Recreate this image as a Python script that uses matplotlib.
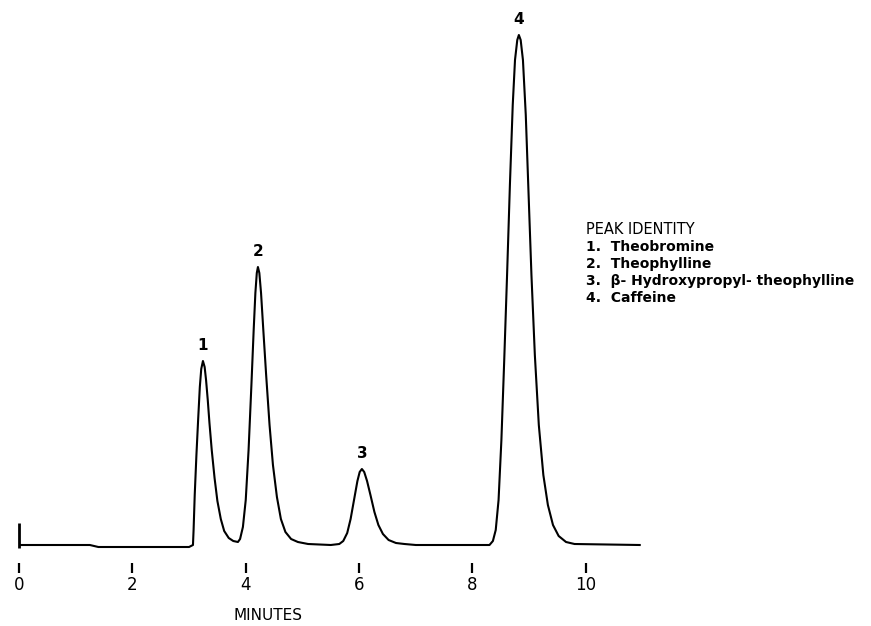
import matplotlib
matplotlib.use("Agg")
import matplotlib.pyplot as plt

# Chromatogram trace (time in minutes, detector signal in arbitrary units)
t = [0.03, 1.25, 1.40, 3.00,
     3.069, 3.08, 3.10, 3.13, 3.16, 3.19, 3.215, 3.245, 3.275, 3.30, 3.33, 3.36, 3.40, 3.45,
     3.50, 3.56, 3.62, 3.70, 3.78, 3.862,
     3.90, 3.95, 4.00, 4.05, 4.10, 4.14, 4.17, 4.195, 4.215, 4.24, 4.27, 4.31, 4.36, 4.42,
     4.48, 4.55, 4.62, 4.70, 4.80, 4.92, 5.10, 5.50,
     5.65, 5.72, 5.79, 5.85, 5.91, 5.97, 6.01, 6.049, 6.09, 6.14, 6.20, 6.27, 6.34, 6.42,
     6.52, 6.65, 6.80, 7.00,
     8.30, 8.36, 8.41, 8.46, 8.51, 8.56, 8.61, 8.66, 8.71, 8.75, 8.79, 8.818, 8.85, 8.89,
     8.94, 8.99, 9.04, 9.10, 9.17, 9.25, 9.33, 9.42, 9.52, 9.65, 9.80, 10.95]
signal = [0, 0, -2, -2,
          0, 15, 50, 90, 125, 158, 176, 184, 178, 165, 145, 122, 95, 67,
          44, 26, 14, 7, 4, 3,
          6, 18, 45, 95, 160, 215, 252, 272, 278, 272, 252, 215, 170, 120,
          80, 48, 26, 13, 6, 3, 1, 0,
          1, 4, 12, 26, 45, 64, 73, 76, 73, 64, 50, 33, 20, 11,
          5, 2, 1, 0,
          0, 4, 15, 45, 105, 185, 270, 360, 440, 485, 505, 510, 505, 485,
          430, 350, 270, 190, 120, 70, 40, 20, 9, 3, 1, 0]

# injection mark at t = 0
inject_low, inject_high = -3, 22

peak_times = [3.245, 4.215, 6.049, 8.818]
peak_heights = [184, 278, 76, 510]
peak_labels = ["1", "2", "3", "4"]

x_ticks = [0, 2, 4, 6, 8, 10]
x_ticklabels = ["0", "2", "4", "6", "8", "10"]

legend_title = "PEAK IDENTITY"
legend_items = ["1.  Theobromine", "2.  Theophylline",
                "3.  \u03b2- Hydroxypropyl- theophylline", "4.  Caffeine"]

fig = plt.figure(figsize=(8.71, 6.26), dpi=100)
ax = fig.add_axes([0, 0, 1, 1])
ax.set_xlim(-0.335, 15.03)
ax.set_ylim(-81, 545)

ax.plot(t, signal, color="black", lw=1.5, solid_joinstyle="round")
ax.vlines(0, inject_low, inject_high, color="black", lw=2)

for pt, ph, lab in zip(peak_times, peak_heights, peak_labels):
    ax.text(pt, ph + 8, lab, ha="center", va="bottom", fontsize=11, fontweight="bold")

# x axis: hidden spine, detached ticks below the baseline
for s in ["top", "right", "left", "bottom"]:
    ax.spines[s].set_visible(False)
ax.spines["bottom"].set_position(("data", -18))
ax.set_yticks([])
ax.set_xticks(x_ticks)
ax.set_xticklabels(x_ticklabels, fontsize=12)
ax.tick_params(axis="x", direction="out", length=7, width=1.6, pad=2, colors="black")
ax.set_xlabel("MINUTES", fontsize=11)
ax.xaxis.set_label_coords(4.4, -63, transform=ax.transData)
ax.patch.set_alpha(0)

ax.text(10.0, 545 - 230, legend_title, fontsize=10.5, va="center", ha="left")
for i, item in enumerate(legend_items):
    ax.text(10.0, 545 - 247 - i * 17, item, fontsize=10, va="center", ha="left", fontweight="bold")

fig.savefig("out.png", dpi=100)
